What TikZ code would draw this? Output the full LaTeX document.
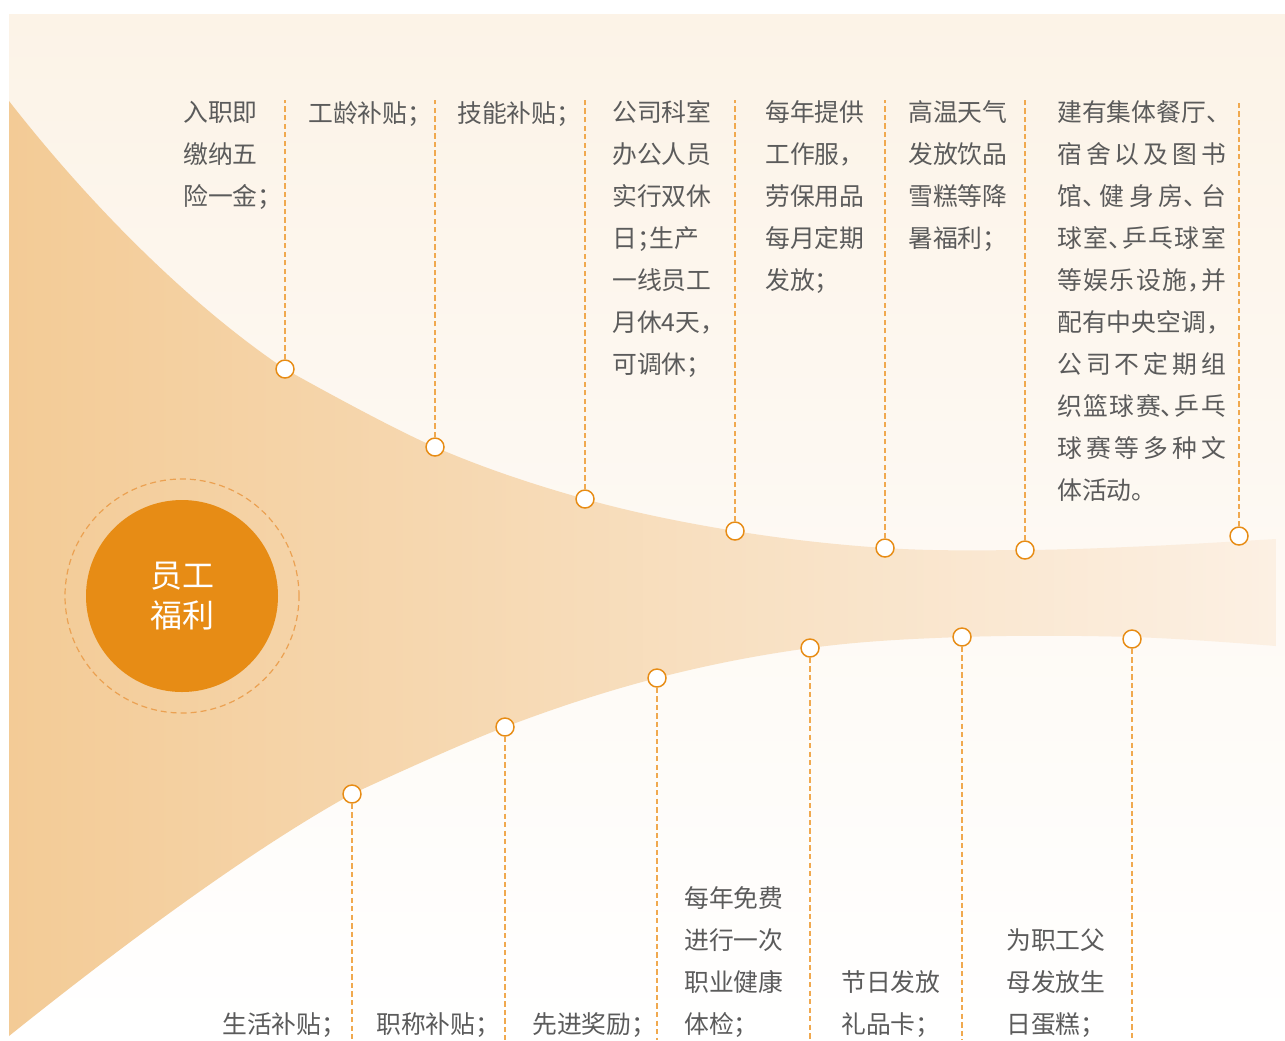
\documentclass[tikz,border=0pt]{standalone}
\usepackage{fontspec}
\setmainfont{Noto Sans CJK SC}[RawFeature=+halt]
\usepackage{tikz}

\definecolor{wborange}{HTML}{E78C15}
\definecolor{wbpeach}{HTML}{F3CB96}
\definecolor{wbpale}{HTML}{FCF0E3}
\definecolor{wbback}{HTML}{FCF3E7}
\definecolor{wbtext}{HTML}{5B5B5B}
\definecolor{wbdash}{HTML}{F0A94F}
\definecolor{wbring}{HTML}{EBA152}

\newcommand{\spreadline}[1]{\makebox[6.8em][s]{#1}}

\tikzset{
    dot/.style={shape=circle, draw=wborange, fill=white, line width=1.1pt, minimum size=13.5pt, inner sep=0pt},
    link/.style={draw=wbdash, line width=0.9pt, dash pattern=on 4pt off 2.4pt},
    item/.style={inner sep=0pt, align=left, text=wbtext, font=\fontsize{18.6}{31.5}\selectfont},
    topitem/.style={item, anchor=north west},
    lowitem/.style={item, anchor=south west},
}

\begin{document}
\begin{tikzpicture}[x=0.75pt, y=-0.75pt]
    \useasboundingbox (0,0) rectangle (1285,1040);
    % background and band
    \shade[top color=wbback, bottom color=white] (9,14) rectangle (1285,1040);
    \shade[left color=wbpeach, right color=wbpale]
        (9,101) .. controls (90,205) and (190,305) .. (285,369)
        -- plot[smooth, tension=0.6] coordinates {(285,369) (435,447) (585,499) (735,531) (885,548) (1025,550) (1150,546) (1276,539)}
        -- plot[smooth, tension=0.6] coordinates {(1276,646) (1132,637) (962,637) (810,648) (657,678) (505,727) (352,794)}
        .. controls (245,853) and (110,955) .. (9,1036)
        -- cycle;

    % centre
    \node[shape=circle, draw=wbring, line width=0.9pt, dash pattern=on 4.5pt off 3pt, minimum size=175.5pt] at (182,596) (halo) {};
    \node[shape=circle, fill=wborange, text=white, minimum size=144pt, align=center, font=\fontsize{24}{30}\selectfont] at (182,596) (core) {员工\\福利};

    % upper dots
    \node[dot] at (285,369) (T1) {};
    \node[dot] at (435,447) (T2) {};
    \node[dot] at (585,499) (T3) {};
    \node[dot] at (735,531) (T4) {};
    \node[dot] at (885,548) (T5) {};
    \node[dot] at (1025,550) (T6) {};
    \node[dot] at (1239,536) (T7) {};
    \coordinate (T1e) at (285,100);
    \coordinate (T2e) at (435,100);
    \coordinate (T3e) at (585,100);
    \coordinate (T4e) at (735,100);
    \coordinate (T5e) at (885,100);
    \coordinate (T6e) at (1025,100);
    \coordinate (T7e) at (1239,100);
    \path[link] (T1) -- (T1e);
    \path[link] (T2) -- (T2e);
    \path[link] (T3) -- (T3e);
    \path[link] (T4) -- (T4e);
    \path[link] (T5) -- (T5e);
    \path[link] (T6) -- (T6e);
    \path[link] (T7) -- (T7e);

    % lower dots
    \node[dot] at (352,794) (B1) {};
    \node[dot] at (505,727) (B2) {};
    \node[dot] at (657,678) (B3) {};
    \node[dot] at (810,648) (B4) {};
    \node[dot] at (962,637) (B5) {};
    \node[dot] at (1132,639) (B6) {};
    \coordinate (B1e) at (352,1040);
    \coordinate (B2e) at (505,1040);
    \coordinate (B3e) at (657,1040);
    \coordinate (B4e) at (810,1040);
    \coordinate (B5e) at (962,1040);
    \coordinate (B6e) at (1132,1040);
    \path[link] (B1) -- (B1e);
    \path[link] (B2) -- (B2e);
    \path[link] (B3) -- (B3e);
    \path[link] (B4) -- (B4e);
    \path[link] (B5) -- (B5e);
    \path[link] (B6) -- (B6e);

    % upper texts
    \node[topitem] at (183,101) (T1txt) {入职即\\缴纳五\\险一金；};
    \node[topitem] at (308,101) (T2txt) {工龄补贴；};
    \node[topitem] at (457,101) (T3txt) {技能补贴；};
    \node[topitem] at (612,100) (T4txt) {公司科室\\办公人员\\实行双休\\日；生产\\一线员工\\月休4天，\\可调休；};
    \node[topitem] at (765,100) (T5txt) {每年提供\\工作服，\\劳保用品\\每月定期\\发放；};
    \node[topitem] at (908,100) (T6txt) {高温天气\\发放饮品\\雪糕等降\\暑福利；};
    \node[topitem] at (1057,100) (T7txt) {建有集体餐厅、\\\spreadline{宿\hfil 舍\hfil 以\hfil 及\hfil 图\hfil 书}\\\spreadline{馆、\hfil 健\hfil 身\hfil 房、\hfil 台}\\\spreadline{球\hfil 室、\hfil 乒\hfil 乓\hfil 球\hfil 室}\\\spreadline{等\hfil 娱\hfil 乐\hfil 设\hfil 施，\hfil 并}\\配有中央空调，\\\spreadline{公\hfil 司\hfil 不\hfil 定\hfil 期\hfil 组}\\\spreadline{织\hfil 篮\hfil 球\hfil 赛、\hfil 乒\hfil 乓}\\\spreadline{球\hfil 赛\hfil 等\hfil 多\hfil 种\hfil 文}\\体活动。};

    % lower texts
    \node[lowitem] at (222,1038) (B1txt) {生活补贴；};
    \node[lowitem] at (376,1038) (B2txt) {职称补贴；};
    \node[lowitem] at (532,1038) (B3txt) {先进奖励；};
    \node[lowitem] at (684,1038) (B4txt) {每年免费\\进行一次\\职业健康\\体检；};
    \node[lowitem] at (841,1038) (B5txt) {节日发放\\礼品卡；};
    \node[lowitem] at (1006,1038) (B6txt) {为职工父\\母发放生\\日蛋糕；};
\end{tikzpicture}
\end{document}
